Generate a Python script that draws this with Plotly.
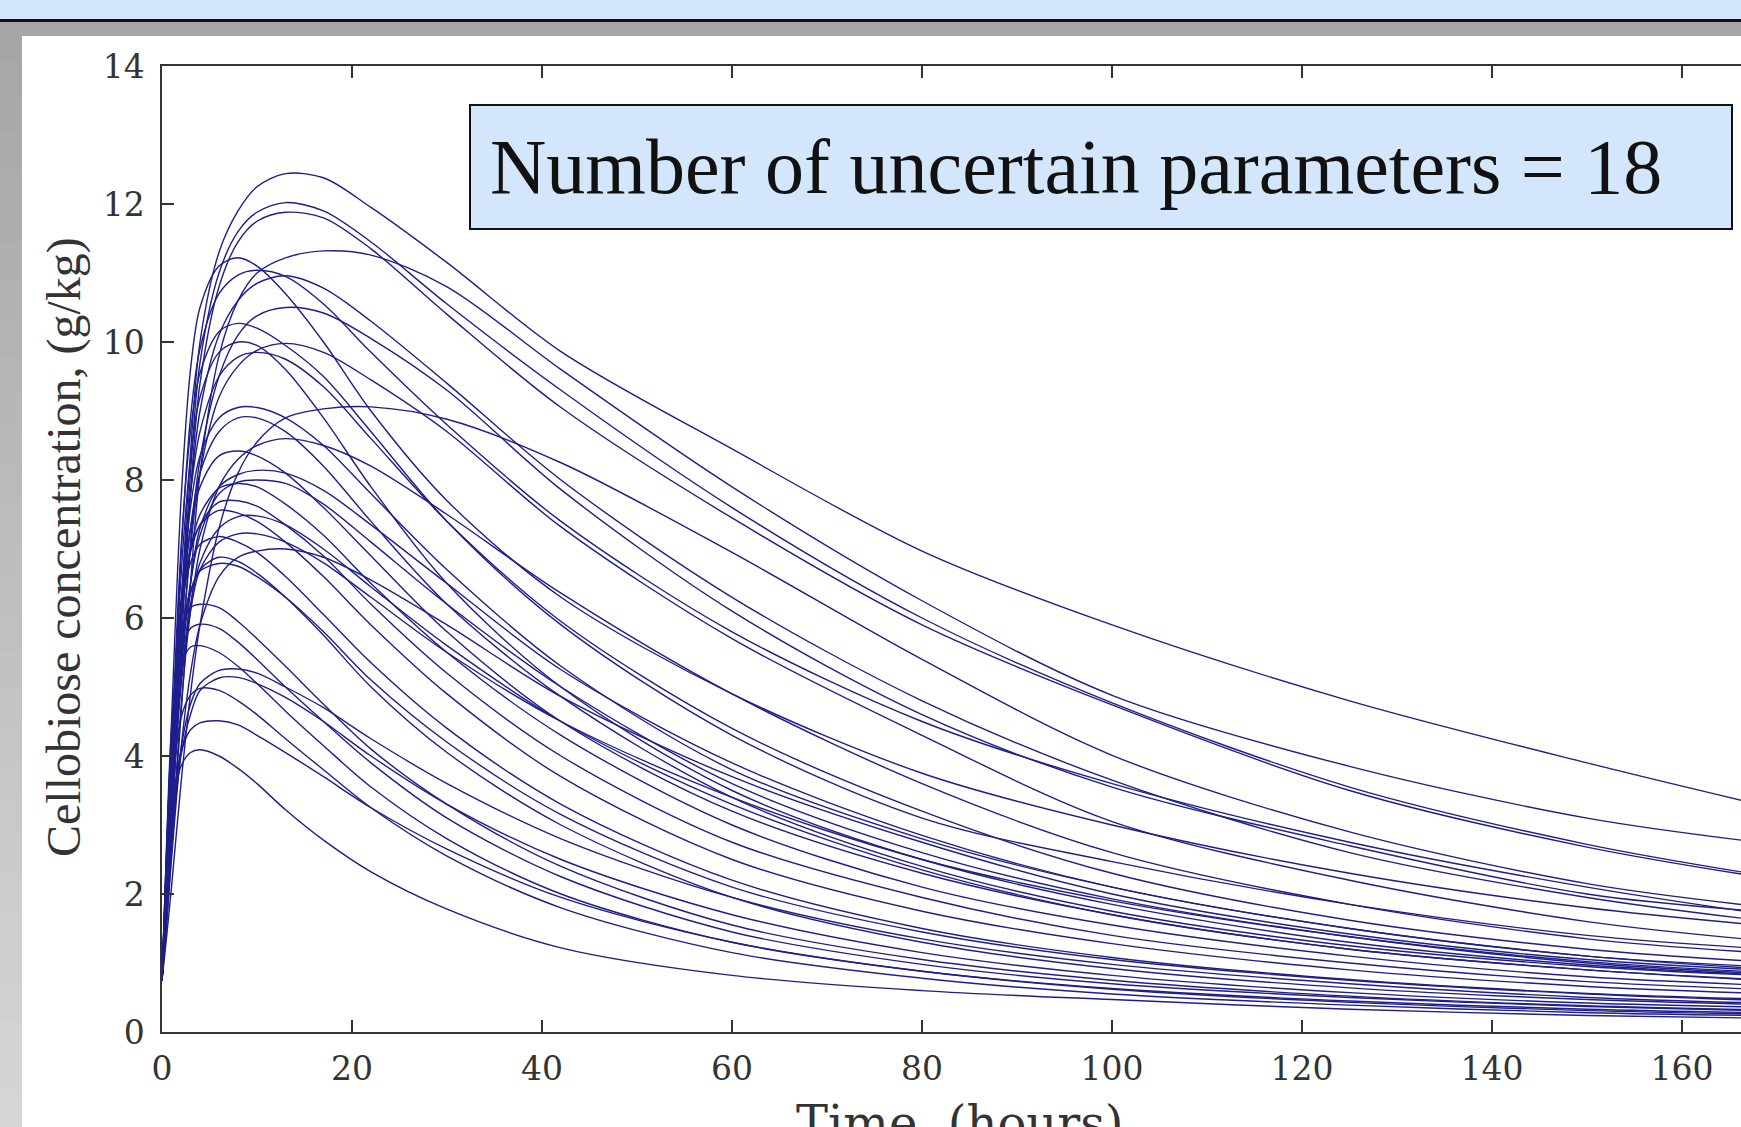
import plotly.graph_objects as go

# Sampling times (hours) shared by every simulated trajectory
hours = [0, 0.5, 1, 2, 3, 4, 6, 8, 10, 13, 17, 22, 30, 42, 60, 80, 100, 125, 150, 168]

# Cellobiose concentration (g/kg) for each sampled parameter set
run_01 = [0.75, 2.0, 3.4, 6.1, 8.4, 10.0, 11.3, 11.9, 12.25, 12.44, 12.38, 11.95, 11.15, 9.86, 8.45, 6.97, 5.9, 4.8, 3.9, 3.3]
run_02 = [0.75, 1.9, 3.2, 5.8, 8.1, 9.7, 11.0, 11.6, 11.88, 12.02, 11.9, 11.45, 10.55, 9.3, 7.6, 6.0, 4.77, 3.55, 2.72, 2.28]
run_03 = [0.75, 1.8, 3.0, 5.5, 7.8, 9.4, 10.8, 11.45, 11.75, 11.88, 11.8, 11.35, 10.4, 9.05, 7.45, 5.9, 4.74, 3.5, 2.68, 2.25]
run_04 = [0.75, 1.6, 2.6, 4.6, 6.5, 8.1, 9.8, 10.6, 11.0, 11.22, 11.32, 11.26, 10.8, 9.6, 7.9, 6.25, 4.88, 3.85, 3.1, 2.75]
run_05 = [0.75, 2.6, 4.5, 7.7, 9.6, 10.5, 11.1, 11.22, 11.1, 10.7, 10.0, 9.0, 7.7, 6.3, 4.9, 3.75, 3.0, 2.3, 1.8, 1.55]
run_06 = [0.75, 2.2, 3.9, 6.9, 8.9, 9.9, 10.7, 10.97, 11.04, 10.95, 10.55, 9.85, 8.8, 7.4, 5.8, 4.5, 3.6, 2.75, 2.1, 1.72]
run_07 = [0.75, 1.9, 3.3, 5.9, 7.8, 9.0, 10.1, 10.6, 10.85, 10.96, 10.78, 10.3, 9.4, 8.0, 6.3, 4.8, 3.65, 2.6, 1.95, 1.62]
run_08 = [0.75, 1.8, 3.0, 5.3, 7.1, 8.3, 9.5, 10.1, 10.38, 10.5, 10.42, 10.05, 9.3, 7.86, 6.1, 4.6, 3.55, 2.7, 2.0, 1.75]
run_09 = [0.75, 2.4, 4.1, 7.0, 8.7, 9.55, 10.15, 10.27, 10.2, 9.95, 9.5, 8.7, 7.4, 5.9, 4.3, 3.1, 2.47, 1.85, 1.4, 1.21]
run_10 = [0.75, 1.8, 3.0, 5.3, 7.0, 8.1, 9.2, 9.65, 9.88, 9.98, 9.85, 9.45, 8.7, 7.32, 5.7, 4.3, 3.05, 2.2, 1.6, 1.33]
run_11 = [0.75, 2.1, 3.6, 6.2, 7.8, 8.7, 9.5, 9.78, 9.85, 9.75, 9.35, 8.6, 7.4, 5.95, 4.4, 3.2, 2.3, 1.62, 1.2, 1.02]
run_12 = [0.75, 2.3, 3.9, 6.6, 8.3, 9.2, 9.85, 10.0, 9.95, 9.6, 8.9, 7.9, 6.5, 5.0, 3.5, 2.5, 1.85, 1.3, 0.97, 0.83]
run_13 = [0.75, 1.4, 2.1, 3.6, 4.9, 5.9, 7.3, 8.1, 8.55, 8.9, 9.03, 9.06, 8.88, 8.25, 6.95, 5.4, 4.01, 2.9, 2.15, 1.82]
run_14 = [0.75, 2.2, 3.7, 6.2, 7.6, 8.35, 8.9, 9.05, 9.05, 8.9, 8.5, 7.8, 6.7, 5.3, 3.8, 2.8, 2.1, 1.5, 1.1, 0.95]
run_15 = [0.75, 2.1, 3.5, 5.9, 7.3, 8.1, 8.7, 8.9, 8.9, 8.7, 8.2, 7.4, 6.2, 4.86, 3.4, 2.4, 1.75, 1.25, 0.95, 0.82]
run_16 = [0.75, 1.7, 2.7, 4.7, 6.1, 7.0, 7.9, 8.3, 8.5, 8.6, 8.5, 8.2, 7.5, 6.36, 4.9, 3.6, 2.6, 1.85, 1.35, 1.15]
run_17 = [0.75, 2.3, 3.8, 6.1, 7.3, 7.9, 8.35, 8.42, 8.35, 8.1, 7.6, 6.9, 5.8, 4.5, 3.2, 2.3, 1.7, 1.2, 0.9, 0.75]
run_18 = [0.75, 1.9, 3.1, 5.2, 6.5, 7.3, 7.9, 8.08, 8.14, 8.1, 7.85, 7.35, 6.5, 5.25, 3.9, 2.85, 2.1, 1.5, 1.1, 0.92]
run_19 = [0.75, 2.0, 3.2, 5.3, 6.5, 7.2, 7.8, 7.97, 8.0, 7.95, 7.65, 7.1, 6.2, 5.0, 3.6, 2.6, 1.93, 1.38, 1.0, 0.85]
run_20 = [0.75, 2.3, 3.8, 6.0, 7.0, 7.5, 7.88, 7.95, 7.9, 7.65, 7.2, 6.5, 5.5, 4.3, 3.0, 2.1, 1.55, 1.1, 0.8, 0.68]
run_21 = [0.75, 2.4, 3.9, 6.0, 6.95, 7.35, 7.68, 7.7, 7.62, 7.35, 6.9, 6.2, 5.2, 4.0, 2.75, 1.95, 1.4, 1.0, 0.73, 0.62]
run_22 = [0.75, 2.5, 4.1, 6.2, 7.0, 7.35, 7.56, 7.52, 7.4, 7.1, 6.6, 5.9, 4.9, 3.7, 2.5, 1.75, 1.28, 0.9, 0.66, 0.56]
run_23 = [0.75, 1.9, 3.1, 5.0, 6.1, 6.7, 7.1, 7.22, 7.22, 7.1, 6.8, 6.3, 5.5, 4.5, 3.4, 2.5, 1.9, 1.38, 1.02, 0.87]
run_24 = [0.75, 2.0, 3.2, 5.1, 6.2, 6.8, 7.3, 7.47, 7.48, 7.35, 7.0, 6.45, 5.6, 4.5, 3.3, 2.35, 1.7, 1.2, 0.9, 0.76]
run_25 = [0.75, 1.6, 2.5, 4.1, 5.2, 5.9, 6.6, 6.88, 6.97, 7.0, 6.88, 6.55, 5.9, 4.86, 3.7, 2.75, 2.0, 1.42, 1.05, 0.9]
run_26 = [0.75, 2.6, 4.2, 6.1, 6.8, 7.07, 7.18, 7.1, 6.95, 6.6, 6.05, 5.35, 4.4, 3.3, 2.2, 1.5, 1.08, 0.76, 0.56, 0.48]
run_27 = [0.75, 2.4, 3.9, 5.7, 6.4, 6.68, 6.79, 6.75, 6.6, 6.3, 5.8, 5.1, 4.2, 3.15, 2.1, 1.45, 1.05, 0.75, 0.55, 0.46]
run_28 = [0.75, 2.3, 3.8, 5.6, 6.35, 6.7, 6.88, 6.82, 6.65, 6.3, 5.75, 5.0, 4.05, 3.0, 1.95, 1.3, 0.92, 0.64, 0.47, 0.4]
run_29 = [0.75, 2.8, 4.4, 5.8, 6.15, 6.2, 6.15, 5.95, 5.7, 5.3, 4.75, 4.1, 3.3, 2.4, 1.55, 1.05, 0.75, 0.52, 0.38, 0.32]
run_30 = [0.75, 2.7, 4.2, 5.5, 5.85, 5.91, 5.85, 5.65, 5.4, 5.0, 4.5, 3.9, 3.1, 2.25, 1.45, 0.98, 0.7, 0.5, 0.37, 0.31]
run_31 = [0.75, 2.7, 4.1, 5.3, 5.58, 5.6, 5.5, 5.3, 5.05, 4.65, 4.15, 3.55, 2.8, 2.0, 1.3, 0.88, 0.63, 0.45, 0.33, 0.28]
run_32 = [0.75, 1.8, 2.8, 4.1, 4.75, 5.05, 5.24, 5.26, 5.2, 5.0, 4.7, 4.25, 3.6, 2.8, 1.95, 1.35, 0.98, 0.7, 0.5, 0.42]
run_33 = [0.75, 1.7, 2.7, 4.0, 4.6, 4.95, 5.13, 5.14, 5.05, 4.85, 4.5, 4.0, 3.3, 2.5, 1.7, 1.15, 0.82, 0.57, 0.42, 0.36]
run_34 = [0.75, 2.2, 3.4, 4.55, 4.88, 4.98, 4.95, 4.8, 4.6, 4.25, 3.8, 3.25, 2.55, 1.8, 1.15, 0.78, 0.55, 0.39, 0.28, 0.24]
run_35 = [0.75, 2.0, 3.1, 4.05, 4.38, 4.48, 4.51, 4.45, 4.3, 4.05, 3.7, 3.25, 2.65, 1.95, 1.3, 0.88, 0.62, 0.43, 0.31, 0.26]
run_36 = [0.75, 2.1, 3.1, 3.85, 4.05, 4.09, 4.0, 3.82, 3.6, 3.22, 2.78, 2.32, 1.78, 1.22, 0.82, 0.6, 0.47, 0.33, 0.24, 0.2]

runs = [run_01, run_02, run_03, run_04, run_05, run_06, run_07, run_08, run_09,
        run_10, run_11, run_12, run_13, run_14, run_15, run_16, run_17, run_18,
        run_19, run_20, run_21, run_22, run_23, run_24, run_25, run_26, run_27,
        run_28, run_29, run_30, run_31, run_32, run_33, run_34, run_35, run_36]

x_ticks = [0, 20, 40, 60, 80, 100, 120, 140, 160]
y_ticks = [0, 2, 4, 6, 8, 10, 12, 14]
box_label = "Number of uncertain parameters = 18"
x_title = "Time  (hours)"
y_title = "Cellobiose concentration, (g/kg)"

W, H = 1741, 1127
L, R, T, B = 162, 0, 66, 95
PW, PH = W - L - R, H - T - B


def px(xp):
    return (xp - L) / PW


def py(yp):
    return (H - B - yp) / PH


LINE = "#1e1e8c"
AXIS = "#333333"

fig = go.Figure()
for r in runs:
    fig.add_trace(go.Scatter(
        x=hours, y=r, mode="lines",
        line=dict(color=LINE, width=1.4, shape="spline", smoothing=0.9),
        showlegend=False, hoverinfo="skip"))

shapes = []
# slide header band, rule and grey frame
shapes.append(dict(type="rect", xref="paper", yref="paper", x0=px(-5), x1=px(W + 5),
                   y0=py(19), y1=py(-5), fillcolor="#d3e6fb", line_width=0, layer="above"))
shapes.append(dict(type="rect", xref="paper", yref="paper", x0=px(-5), x1=px(W + 5),
                   y0=py(22), y1=py(19), fillcolor="#111111", line_width=0, layer="above"))
shapes.append(dict(type="rect", xref="paper", yref="paper", x0=px(-5), x1=px(W + 5),
                   y0=py(36), y1=py(22), fillcolor="#a6a6a6", line_width=0, layer="above"))
# left frame strip, shading lighter towards the bottom
n = 30
top, bot = 22, H + 5
for i in range(n):
    y0 = top + (bot - top) * i / n
    y1 = top + (bot - top) * (i + 1) / n
    g = int(round(0xa6 + (0xd6 - 0xa6) * i / (n - 1)))
    shapes.append(dict(type="rect", xref="paper", yref="paper", x0=px(-5), x1=px(22),
                       y0=py(y1 + 0.5), y1=py(y0), fillcolor=f"rgb({g},{g},{g})",
                       line_width=0, layer="above"))
# highlighted label box
shapes.append(dict(type="rect", xref="paper", yref="paper", x0=px(470), x1=px(1732),
                   y0=py(229), y1=py(105), fillcolor="#d3e6fb",
                   line=dict(color="#111111", width=2), layer="above"))

annotations = [
    dict(text=box_label, xref="paper", yref="paper", x=px(488), y=py(167),
         xanchor="left", yanchor="middle", showarrow=False,
         font=dict(family="Liberation Serif", size=78, color="#111111")),
    dict(text=x_title, xref="paper", yref="paper", x=px(960), y=py(1093),
         xanchor="center", yanchor="top", showarrow=False,
         font=dict(family="DejaVu Serif", size=48, color=AXIS)),
    dict(text=y_title, xref="paper", yref="paper", x=px(64), y=py(547),
         xanchor="center", yanchor="middle", textangle=-90, showarrow=False,
         font=dict(family="Liberation Serif", size=48, color=AXIS)),
]

axis_common = dict(showgrid=False, zeroline=False, showline=True, linecolor=AXIS,
                   linewidth=1.5, ticks="inside", ticklen=12, tickwidth=1.5,
                   tickcolor=AXIS, tickfont=dict(family="DejaVu Serif", size=33, color=AXIS))

fig.update_layout(
    width=W, height=H,
    margin=dict(l=L, r=R, t=T, b=B, pad=0),
    paper_bgcolor="white", plot_bgcolor="white",
    xaxis=dict(range=[0, 166.2], tickvals=x_ticks, mirror="ticks",
               ticklabelstandoff=7, **axis_common),
    yaxis=dict(range=[0, 14], tickvals=y_ticks, mirror=False,
               ticklabelstandoff=9, **axis_common),
    shapes=shapes, annotations=annotations,
)

fig.write_html("out.html")
